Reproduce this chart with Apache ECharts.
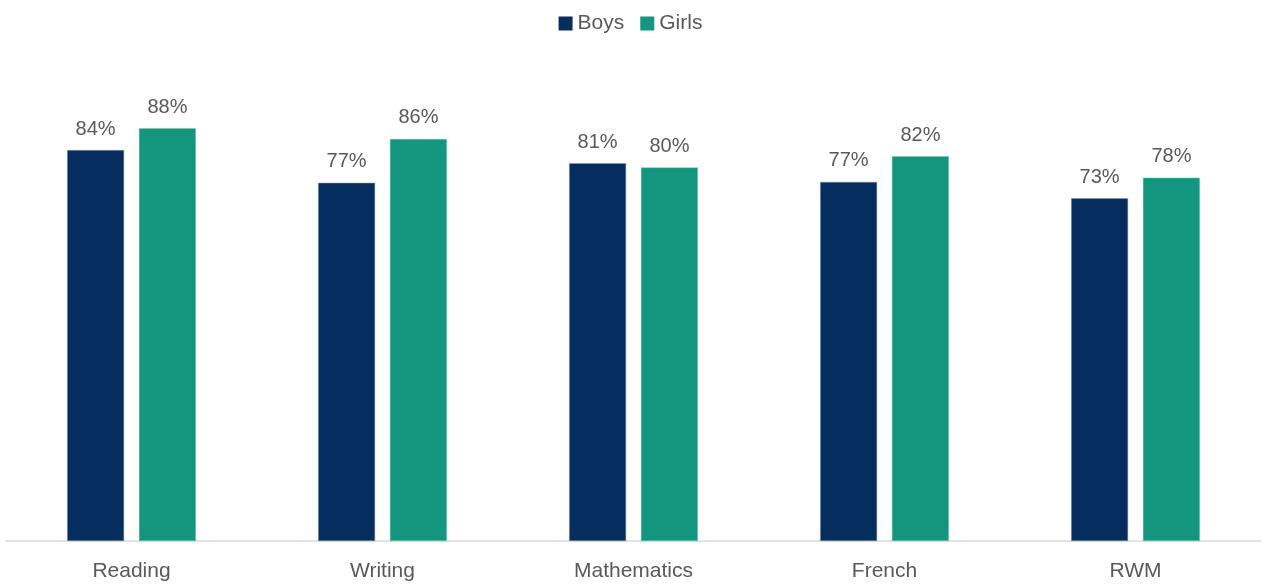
<!DOCTYPE html>
<html>
<head>
<meta charset="utf-8">
<script src="https://cdn.jsdelivr.net/npm/echarts@6/dist/echarts.min.js"></script>
<style>
html,body{margin:0;padding:0;background:#fff;}
#chart{width:1261px;height:585px;}
</style>
</head>
<body>
<div id="chart"></div>
<script>
const categories = ['Reading', 'Writing', 'Mathematics', 'French', 'RWM'];
const boys = [83.7, 76.7, 80.9, 76.9, 73.4];
const girls = [88.4, 86.1, 80.0, 82.4, 77.8];

const FONT = 'Liberation Sans';
const chart = echarts.init(document.getElementById('chart'));
const labelCfg = {
  show: true,
  position: 'top',
  distance: 11,
  color: '#595959',
  fontSize: 20,
  fontFamily: FONT,
  formatter: p => Math.round(p.value) + '%'
};
chart.setOption({
  animation: false,
  textStyle: { fontFamily: FONT },
  legend: {
    top: 8,
    left: 'center',
    itemWidth: 14,
    itemHeight: 14,
    itemGap: 16,
    icon: 'rect',
    itemStyle: { borderWidth: 0 },
    textStyle: { color: '#595959', fontSize: 21, fontFamily: FONT },
    data: ['Boys', 'Girls']
  },
  grid: { left: 6, right: 0, top: 74, bottom: 44, containLabel: false },
  xAxis: {
    type: 'category',
    data: categories,
    axisLine: { lineStyle: { color: '#d9d9d9', width: 1.5 } },
    axisTick: { show: false },
    axisLabel: { color: '#595959', fontSize: 21, fontFamily: FONT, margin: 20 }
  },
  yAxis: {
    type: 'value',
    min: 0,
    max: 100,
    show: false,
    splitLine: { show: false }
  },
  series: [
    {
      name: 'Boys',
      type: 'bar',
      data: boys,
      barWidth: 57,
      barGap: '26%',
      itemStyle: { color: '#052D5E', borderColor: '#8a9bb3', borderWidth: 0.5 },
      label: labelCfg
    },
    {
      name: 'Girls',
      type: 'bar',
      data: girls,
      barWidth: 57,
      itemStyle: { color: '#13967D', borderColor: '#7cc4b5', borderWidth: 0.5 },
      label: labelCfg
    }
  ]
});
</script>
</body>
</html>
